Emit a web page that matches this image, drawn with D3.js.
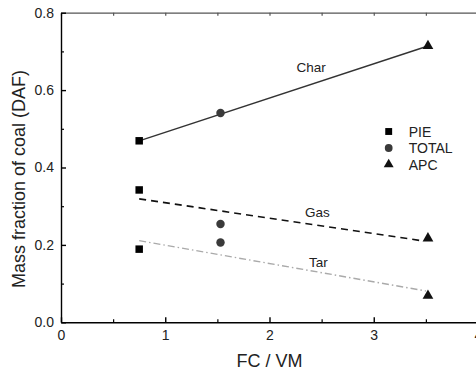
<!DOCTYPE html>
<html>
<head>
<meta charset="utf-8">
<script src="https://cdn.jsdelivr.net/npm/d3@7"></script>
<style>
  body { margin: 0; background: #fff; }
  svg { display: block; font-family: "Liberation Sans", Arial, sans-serif; }
</style>
</head>
<body>
<svg id="chart"></svg>
<script>
// FC/VM ratio of each method and the matching mass fractions
const methods = ["PIE", "TOTAL", "APC"];
const fcvm = [0.75, 1.53, 3.52];
const charVals = [0.469, 0.541, 0.714];
const gasVals = [0.342, 0.254, 0.217];
const tarVals = [0.189, 0.206, 0.069];

// fitted trend lines (start / end points)
const charFit = [[0.75, 0.469], [3.52, 0.714]];
const gasFit = [[0.75, 0.319], [3.48, 0.210]];
const tarFit = [[0.75, 0.211], [3.50, 0.081]];

const xTicks = [0, 1, 2, 3, 4];
const xMinor = [0.5, 1.5, 2.5, 3.5];
const yTicks = [0, 0.2, 0.4, 0.6, 0.8];
const yMinor = [0.1, 0.3, 0.5, 0.7];

const width = 476;
const height = 371;
const marginTop = 12.7;
const marginBottom = 48.7;
const marginLeft = 61;
const plotRight = 478;

const x = d3.scaleLinear().domain([0, 4]).range([marginLeft, plotRight]);
const y = d3.scaleLinear().domain([0, 0.8]).range([height - marginBottom, marginTop]);

const svg = d3.select("#chart")
    .attr("width", width)
    .attr("height", height);

// top frame
svg.append("g")
    .attr("transform", `translate(0,${marginTop})`)
    .call(d3.axisTop(x).tickValues(xTicks.concat(xMinor)).tickSize(-3).tickSizeOuter(0).tickFormat(""))
    .call(g => g.selectAll("path,line").attr("stroke", "#555").attr("stroke-width", 1.2));

// right frame
svg.append("g")
    .attr("transform", `translate(${plotRight},0)`)
    .call(d3.axisRight(y).tickValues([]).tickSizeOuter(0))
    .call(g => g.selectAll("path").attr("stroke", "#555"));

// minor ticks
svg.append("g")
    .attr("transform", `translate(0,${height - marginBottom})`)
    .call(d3.axisBottom(x).tickValues(xMinor).tickSize(-3).tickFormat(""))
    .call(g => g.select(".domain").remove())
    .call(g => g.selectAll("line").attr("stroke-width", 1.2));
svg.append("g")
    .attr("transform", `translate(${marginLeft},0)`)
    .call(d3.axisLeft(y).tickValues(yMinor).tickSize(-3).tickFormat(""))
    .call(g => g.select(".domain").remove())
    .call(g => g.selectAll("line").attr("stroke-width", 1.2));

// x-axis
svg.append("g")
    .attr("transform", `translate(0,${height - marginBottom})`)
    .call(d3.axisBottom(x).tickValues(xTicks).tickSize(-5).tickSizeOuter(0).tickPadding(8).tickFormat(d3.format("d")))
    .call(g => g.selectAll("path,line").attr("stroke", "#000").attr("stroke-width", 1.4))
    .call(g => g.selectAll("text").attr("font-size", 14).attr("fill", "#222").attr("font-family", "Liberation Sans, Arial, sans-serif"));

// y-axis
svg.append("g")
    .attr("transform", `translate(${marginLeft},0)`)
    .call(d3.axisLeft(y).tickValues(yTicks).tickSize(-5).tickSizeOuter(0).tickPadding(7).tickFormat(d3.format(".1f")))
    .call(g => g.selectAll("path,line").attr("stroke", "#000").attr("stroke-width", 1.4))
    .call(g => g.selectAll("text").attr("font-size", 14).attr("fill", "#222").attr("font-family", "Liberation Sans, Arial, sans-serif"));

// axis titles
svg.append("text")
    .attr("x", (marginLeft + plotRight) / 2)
    .attr("y", 367)
    .attr("text-anchor", "middle")
    .attr("font-size", 18)
    .attr("fill", "#222")
    .text("FC / VM");
svg.append("text")
    .attr("transform", "translate(25,179) rotate(-90)")
    .attr("text-anchor", "middle")
    .attr("font-size", 18)
    .attr("fill", "#222")
    .text("Mass fraction of coal (DAF)");

// fit lines
const line = d3.line().x(d => x(d[0])).y(d => y(d[1]));
svg.append("path").attr("d", line(charFit))
    .attr("fill", "none").attr("stroke", "#333").attr("stroke-width", 1.4);
svg.append("path").attr("d", line(gasFit))
    .attr("fill", "none").attr("stroke", "#111").attr("stroke-width", 1.6)
    .attr("stroke-dasharray", "7,5");
svg.append("path").attr("d", line(tarFit))
    .attr("fill", "none").attr("stroke", "#aaa").attr("stroke-width", 1.4)
    .attr("stroke-dasharray", "7,3,1.5,3");

// line labels
const labels = [["Char", 2.40, 0.647], ["Gas", 2.46, 0.273], ["Tar", 2.47, 0.144]];
svg.append("g").selectAll("text")
    .data(labels)
    .join("text")
    .attr("x", d => x(d[1]))
    .attr("y", d => y(d[2]))
    .attr("text-anchor", "middle")
    .attr("font-size", 13.5)
    .attr("fill", "#222")
    .text(d => d[0]);

// markers
const symbolTypes = [d3.symbolSquare, d3.symbolCircle, d3.symbolTriangle];
const symbolSizes = [56, 56, 50];
const symbolColors = ["#000", "#3a3a3a", "#111"];
const points = [];
[charVals, gasVals, tarVals].forEach(vals => {
  vals.forEach((v, i) => points.push({ i, x: fcvm[i], y: v }));
});
svg.append("g").selectAll("path")
    .data(points)
    .join("path")
    .attr("transform", d => `translate(${x(d.x)},${y(d.y)})`)
    .attr("d", d => d3.symbol(symbolTypes[d.i], symbolSizes[d.i])())
    .attr("fill", d => symbolColors[d.i]);

// legend
const legend = svg.append("g").attr("transform", "translate(388.7,131.5)");
const rows = legend.selectAll("g")
    .data(methods)
    .join("g")
    .attr("transform", (d, i) => `translate(0,${i * 16.5})`);
rows.append("path")
    .attr("d", (d, i) => d3.symbol(symbolTypes[i], symbolSizes[i] * 0.85)())
    .attr("fill", (d, i) => symbolColors[i]);
rows.append("text")
    .attr("x", 20)
    .attr("y", 5)
    .attr("font-size", 14)
    .attr("fill", "#222")
    .text(d => d);
</script>
</body>
</html>
